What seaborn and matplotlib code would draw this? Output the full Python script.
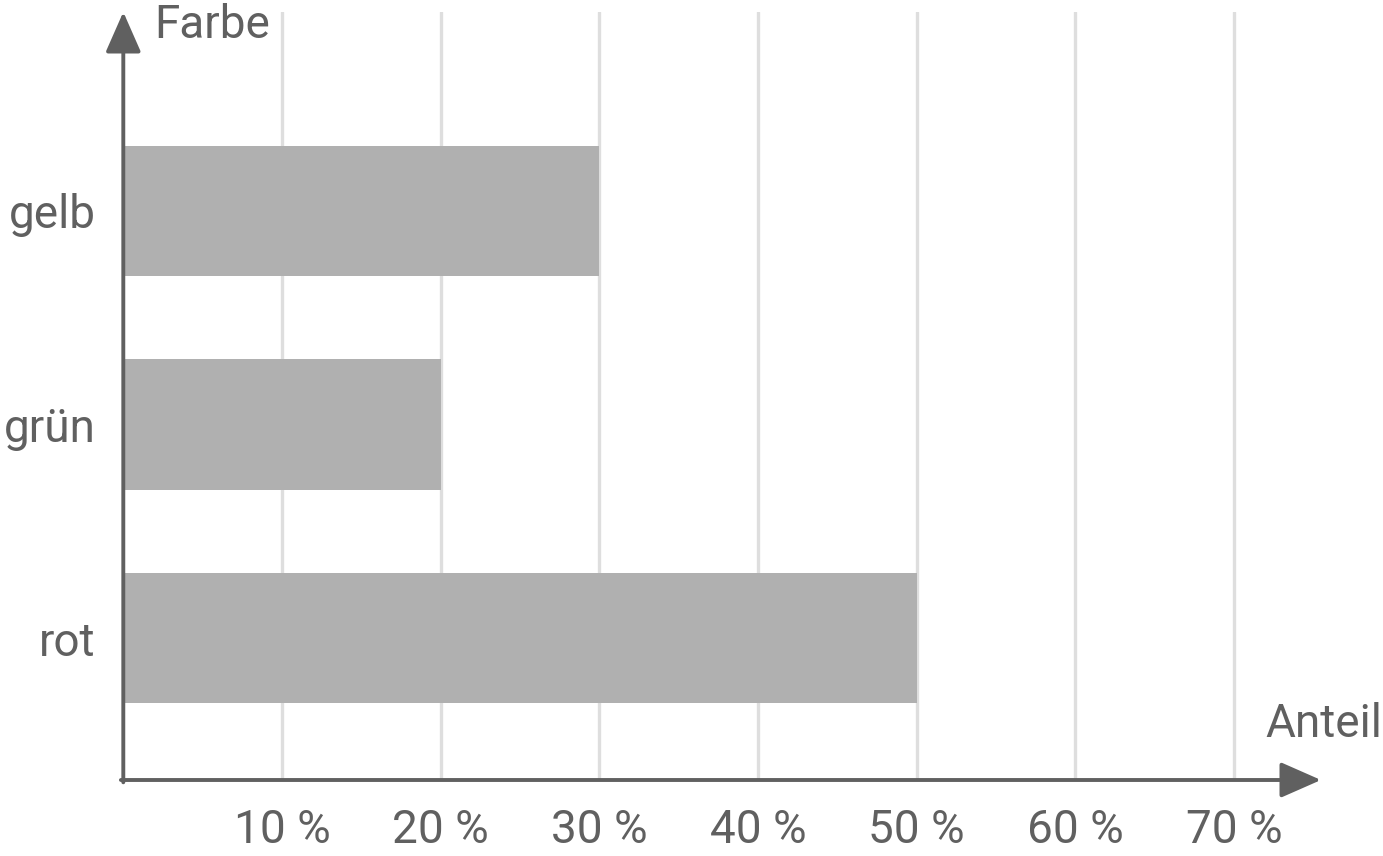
import matplotlib
matplotlib.use("Agg")
import matplotlib.pyplot as plt
import seaborn as sns
import pandas as pd

categories = ["gelb", "grün", "rot"]
values = [30, 20, 50]
xticks = [10, 20, 30, 40, 50, 60, 70]
xticklabels = ["10 %", "20 %", "30 %", "40 %", "50 %", "60 %", "70 %"]

sns.set_style("white")
plt.rcParams['font.family'] = ['Roboto', 'DejaVu Sans']

TXT = "#606060"
FS = 33
W, H = 1383, 856
fig = plt.figure(figsize=(W / 100, H / 100), dpi=100)
x0, x1 = 123.3, 1321
y0, y1 = 780, 12
ax = fig.add_axes([x0 / W, (H - y0) / H, (x1 - x0) / W, (y0 - y1) / H])

df = pd.DataFrame({"Farbe": categories, "Anteil": values})
sns.barplot(data=df, x="Anteil", y="Farbe", orient="h", color="#b0b0b0",
            saturation=1, width=0.61, ax=ax, zorder=2, linewidth=0)

ax.set_xlim(0, 75.48)
ax.set_ylim(2.665, -0.932)
for s in ax.spines.values():
    s.set_visible(False)

ax.set_xticks(xticks)
ax.set_xticklabels(xticklabels)
ax.tick_params(axis="x", length=0, pad=20, labelsize=FS, labelcolor=TXT)
ax.tick_params(axis="y", length=0, pad=20, labelsize=FS, labelcolor=TXT)
ax.grid(axis="x", color="#dedede", linewidth=2.4, zorder=0)
ax.grid(axis="y", visible=False)
ax.set_axisbelow(True)
ax.set_xlabel("")
ax.set_ylabel("")

ap = dict(arrowstyle="-|>,head_length=25,head_width=11", mutation_scale=1,
          lw=2.8, color=TXT, shrinkA=0, shrinkB=0)
ax.annotate("", xy=(1, 0), xytext=(-0.002, 0), xycoords="axes fraction",
            textcoords="axes fraction", arrowprops=ap, annotation_clip=False, zorder=5)
ax.annotate("", xy=(0, 1), xytext=(0, -0.003), xycoords="axes fraction",
            textcoords="axes fraction", arrowprops=ap, annotation_clip=False, zorder=5)

fig.text(154 / W, 1 - 25 / H, "Farbe", ha="left", va="center", fontsize=FS, color=TXT)
fig.text(1382 / W, 1 - 724 / H, "Anteil", ha="right", va="center", fontsize=FS, color=TXT)

fig.savefig("out.png", dpi=100)
